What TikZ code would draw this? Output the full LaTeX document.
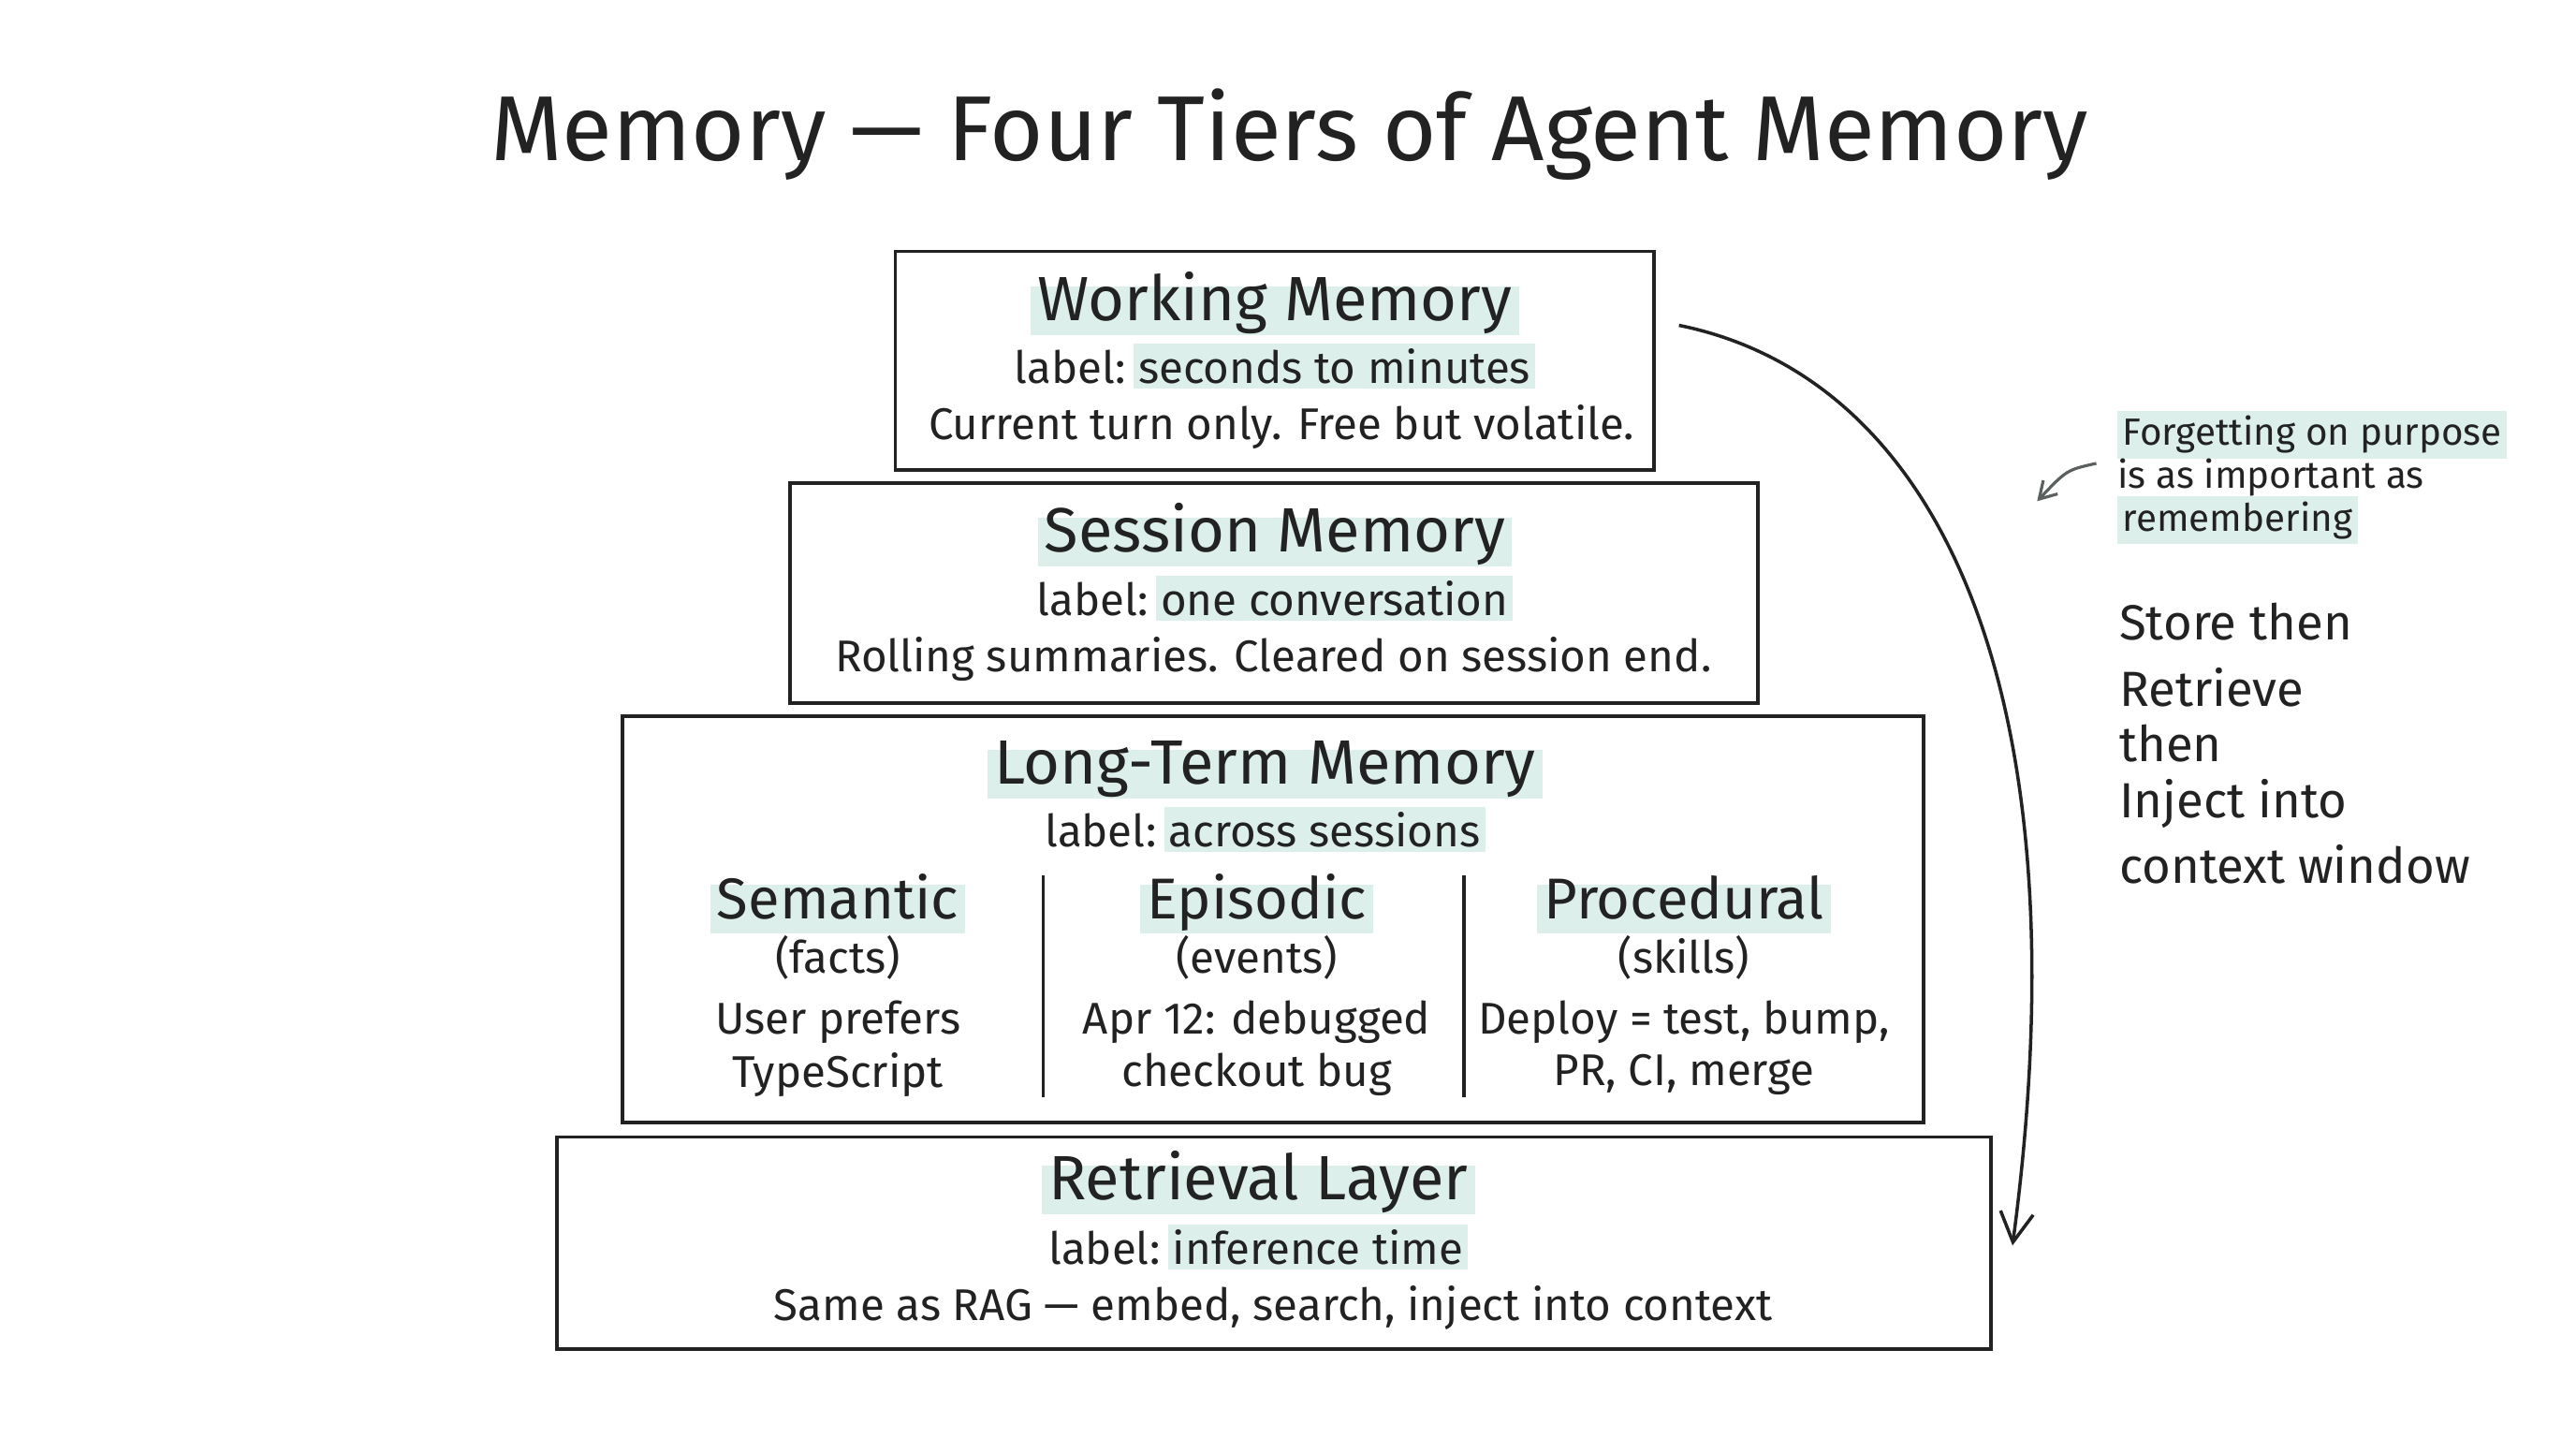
\documentclass[tikz,border=0pt]{standalone}
\usepackage{fontspec}
\setmainfont{Fira Sans}
\usetikzlibrary{arrows.meta}
\definecolor{hl}{HTML}{DDEFEA}
\definecolor{ink}{HTML}{222222}
\setlength{\fboxsep}{1.5pt}
\begin{document}
\begin{tikzpicture}[x=0.01755cm,y=-0.01755cm,
  tier/.style={draw=ink,line width=1.1pt},
  head/.style={fill=hl,inner sep=2pt,text=ink,text height=1.6ex,text depth=0.45ex,font=\fontsize{19}{23}\selectfont},
  sub/.style={text=ink,inner sep=1pt,font=\fontsize{13.5}{16}\selectfont},
  note/.style={text=ink,align=left,anchor=west,font=\fontsize{15}{20}\selectfont}]
\useasboundingbox[fill=white] (0,0) rectangle (1568,875);
\node[text=ink,font=\fontsize{28}{34}\selectfont] (title) at (785,82) {Memory — Four Tiers of Agent Memory};
% boxes
\draw[tier] (545,153) rectangle (1007,286); \coordinate (wk) at (1022,198);
\draw[tier] (481,294) rectangle (1070,428);
\draw[tier] (379,436) rectangle (1171,683);
\draw[tier] (339,692) rectangle (1212,821); \coordinate (rt) at (1225,758);
% working
\node[head] (wh) at (776,189) {Working Memory};
\node[sub] (wl) at (776,223) {label:\,\colorbox{hl}{seconds to minutes}};
\node[sub] (wd) at (780,260) {Current turn only. Free but volatile.};
% session
\node[head] (sh) at (776,330) {Session Memory};
\node[sub] (sl) at (776,364) {label:\,\colorbox{hl}{one conversation}};
\node[sub] (sd) at (775,401) {Rolling summaries. Cleared on session end.};
% long-term
\node[head] (lh) at (770,471) {Long-Term Memory};
\node[sub] (ll) at (770,505) {label:\,\colorbox{hl}{across sessions}};
\draw[ink,line width=1.1pt] (635,533) -- (635,668) (891,533) -- (891,668);
\foreach \n/\x/\h/\p/\a/\b in {se/510/Semantic/(facts)/User prefers/TypeScript,
  ep/765/Episodic/(events)/Apr 12: debugged/checkout bug,
  pr/1025/Procedural/(skills)/{Deploy = test, bump,}/{PR, CI, merge}}{
  \node[head,font=\fontsize{17.5}{21}\selectfont] (\n h) at (\x,553) {\h};
  \node[sub] (\n p) at (\x,583) {\p};
  \node[sub] (\n a) at (\x,622) {\a};
  \node[sub] (\n b) at (\x,654) {\b};
}
% retrieval
\node[head] (rh) at (766,724) {Retrieval Layer};
\node[sub] (rl) at (766,759) {label:\,\colorbox{hl}{inference time}};
\node[sub] (rd) at (775,796) {Same as RAG — embed, search, inject into context};
% arrow
\draw[ink,line width=1pt,-{Straight Barb[length=9pt,width=10pt]}] (wk) .. controls (1180,230) and (1270,420) .. (rt);
% note
\node[note,font=\fontsize{11.5}{15}\selectfont,anchor=north west] (fn) at (1282,243)
  {\colorbox{hl}{Forgetting on purpose}\\[-2pt]is as important as\\[-2pt]\colorbox{hl}{remembering}};
\coordinate (fa) at (1240,305);
\draw[ink!70!hl,line width=0.9pt,-{Straight Barb[length=5pt,width=6pt]}] (1276,282) .. controls (1258,286) .. (fa);
\node[note,anchor=north west,font=\fontsize{15}{17}\selectfont] (st) at (1283,360)
  {Store then\\[3pt]Retrieve\\[0pt]then\\[0pt]Inject into\\[3pt]context window};
\end{tikzpicture}
\end{document}
